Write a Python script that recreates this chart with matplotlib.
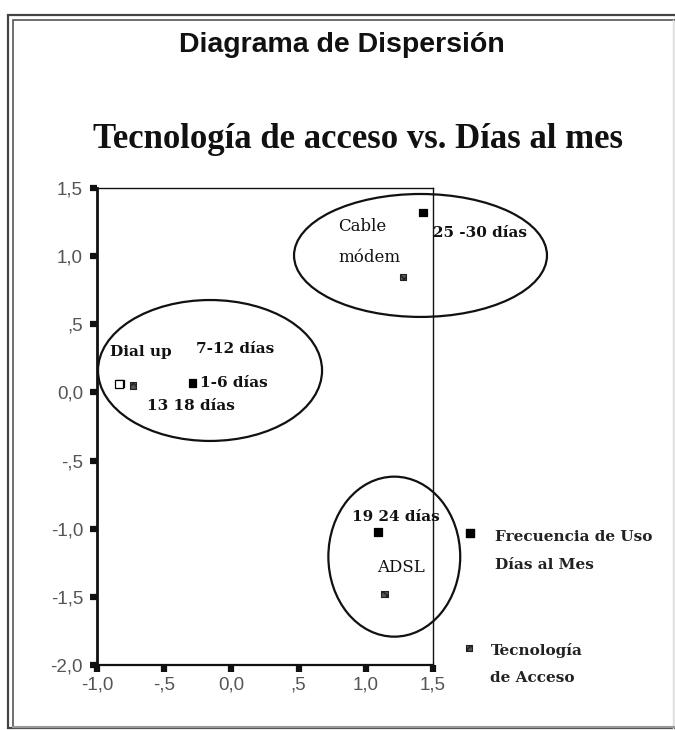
import matplotlib
matplotlib.use("Agg")
import matplotlib.pyplot as plt
from matplotlib.patches import Ellipse, Rectangle

# ---- data ----
freq_labels = ["1-6 días", "7-12 días", "13 18 días", "19 24 días", "25 -30 días"]
freq_x = [-0.29, -0.83, -0.836, 1.093, 1.426]
freq_y = [0.07, 0.065, 0.06, -1.026, 1.319]
freq_open = [False, True, True, False, False]

tech_labels = ["Dial up", "Cable\nmódem", "ADSL"]
tech_x = [-0.732, 1.277, 1.141]
tech_y = [0.05, 0.847, -1.479]

# cluster ellipses (center x, center y, width, height) in data units
ell_cx = [-0.159, 1.407, 1.212]
ell_cy = [0.161, 1.005, -1.205]
ell_w = [1.667, 1.882, 0.981]
ell_h = [1.034, 0.902, 1.174]

xticks = [-1.0, -0.5, 0.0, 0.5, 1.0, 1.5]
xticklabels = ["-1,0", "-,5", "0,0", ",5", "1,0", "1,5"]
yticks = [1.5, 1.0, 0.5, 0.0, -0.5, -1.0, -1.5, -2.0]
yticklabels = ["1,5", "1,0", ",5", "0,0", "-,5", "-1,0", "-1,5", "-2,0"]

title = "Diagrama de Dispersión"
subtitle = "Tecnología de acceso vs. Días al mes"
legend_labels = ["Frecuencia de Uso\nDías al Mes", "Tecnología\nde Acceso"]

# ---- figure ----
W, H = 675, 730
fig = plt.figure(figsize=(W / 100, H / 100), dpi=100)
fig.patch.set_facecolor("white")

def fx(px):
    return px / W

def fy(py):
    return 1 - py / H

ax = fig.add_axes([fx(97), fy(665), fx(433) - fx(97), fy(188) - fy(665)])
ax.set_xlim(-1.0, 1.5)
ax.set_ylim(-2.0, 1.5)
ax.set_facecolor("white")

for side, lw in [("left", 2.0), ("bottom", 1.6), ("top", 1.0), ("right", 1.0)]:
    ax.spines[side].set_linewidth(lw)
    ax.spines[side].set_color("#111111")

ax.set_xticks(xticks)
ax.set_xticklabels(xticklabels)
ax.set_yticks(yticks)
ax.set_yticklabels(yticklabels)
ax.tick_params(axis="both", direction="out", length=5, width=4.5, color="#111111",
               labelcolor="#555555", labelsize=13.5)
ax.tick_params(axis="y", pad=5)
ax.tick_params(axis="x", pad=3)
for lab in ax.get_xticklabels() + ax.get_yticklabels():
    lab.set_fontfamily("Liberation Sans")

# ellipses
for cx, cy, w, h in zip(ell_cx, ell_cy, ell_w, ell_h):
    e = Ellipse((cx, cy), w, h, fill=False, edgecolor="#111111", linewidth=1.6,
                clip_on=False, zorder=3)
    ax.add_patch(e)

# points
face = ["white" if o else "black" for o in freq_open]
ax.scatter(freq_x, freq_y, marker="s", s=30, c=face, edgecolors="black",
           linewidths=0.9, clip_on=False, zorder=5)
ax.scatter(tech_x, tech_y, marker="s", s=22, c="#555555", edgecolors="#222222",
           linewidths=0.8, hatch="xxxx", clip_on=False, zorder=5)

lab_kw = dict(textcoords="offset pixels", ha="left", va="center",
              fontfamily="DejaVu Serif", color="#111111", annotation_clip=False)
bold = dict(fontsize=11, fontweight="bold")
norm = dict(fontsize=12, fontweight="normal")

# frequency labels (offsets in pixels from each point)
freq_off = [(8, 0), (76, 35), (28, -22), (-26, 15), (10, -20)]
for lbl, x, y, off in zip(freq_labels, freq_x, freq_y, freq_off):
    ax.annotate(lbl, (x, y), xytext=off, **lab_kw, **bold)

# technology labels
ax.annotate(tech_labels[0], (tech_x[0], tech_y[0]), xytext=(-23, 34), **lab_kw, **bold)
l1, l2 = tech_labels[1].split("\n")
ax.annotate(l1, (tech_x[1], tech_y[1]), xytext=(-65, 50), **lab_kw, **norm)
ax.annotate(l2, (tech_x[1], tech_y[1]), xytext=(-65, 19), **lab_kw, **norm)
ax.annotate(tech_labels[2], (tech_x[2], tech_y[2]), xytext=(-8, 26), **lab_kw, **norm)

# legend (manual)
ax.scatter([1.109], [0.2767], marker="s", s=30, c="black", transform=ax.transAxes,
           clip_on=False, zorder=5)
ax.scatter([1.1065], [0.0356], marker="s", s=22, c="#555555", edgecolors="#222222",
           linewidths=0.8, hatch="xxxx", transform=ax.transAxes, clip_on=False, zorder=5)
leg1a, leg1b = legend_labels[0].split("\n")
leg2a, leg2b = legend_labels[1].split("\n")
tk = dict(transform=ax.transAxes, ha="left", va="center", fontfamily="DejaVu Serif",
          fontsize=11, fontweight="bold", color="#222222")
ax.text(1.186, 0.268, leg1a, **tk)
ax.text(1.186, 0.2096, leg1b, **tk)
ax.text(1.1726, 0.0314, leg2a, **tk)
ax.text(1.1696, -0.0273, leg2b, **tk)

# titles
fig.text(fx(342), fy(45), title, ha="center", va="center", fontfamily="Liberation Sans",
         fontsize=20.5, fontweight="bold", color="#111111")
fig.text(fx(358), fy(140), subtitle, ha="center", va="center", fontfamily="Liberation Serif",
         fontsize=25, fontweight="bold", color="#111111")

# outer double border
for (l, t, r, b, lw, col) in [(8, 15, 676, 728, 1.6, "#444444"),
                              (13, 20, 676, 728, 1.2, "#555555")]:
    fig.add_artist(Rectangle((fx(l), fy(b)), fx(r) - fx(l), fy(t) - fy(b),
                             transform=fig.transFigure, fill=False,
                             edgecolor=col, linewidth=lw))
fig.add_artist(plt.Line2D([fx(673), fx(673)], [fy(20), fy(728)], transform=fig.transFigure,
                          color="#dddddd", linewidth=1))
fig.add_artist(plt.Line2D([fx(13), fx(676)], [fy(727), fy(727)], transform=fig.transFigure,
                          color="#999999", linewidth=1.5))

fig.savefig("out.png", dpi=100, facecolor="white")
